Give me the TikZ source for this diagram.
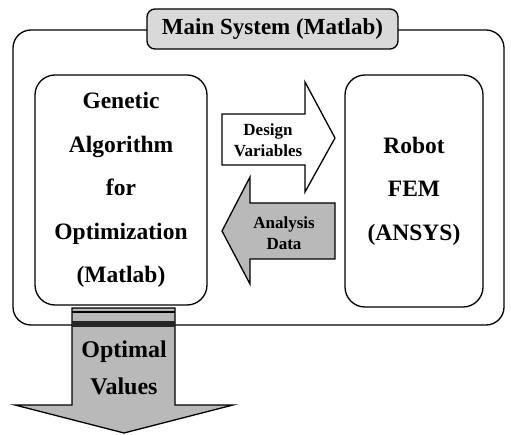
\documentclass[tikz,border=0pt]{standalone}
\usepackage{fontspec}
\setmainfont{Liberation Serif}
\usetikzlibrary{positioning}
\tikzset{every picture/.style={line width=1.3pt}}

\begin{document}
\begin{tikzpicture}[x=1pt,y=-1pt,
    module/.style={draw, rounded corners=20pt, fill=white, align=center,
        font=\bfseries\fontsize{23.5}{43.5}\selectfont},
    flowlabel/.style={align=center, font=\bfseries\fontsize{17}{21.5}\selectfont}]
    \useasboundingbox (0,0) rectangle (511,435);

    % Aussenrahmen des Hauptsystems
    \draw[rounded corners=18pt] (13,30) rectangle (504,325);
    \node[draw, rounded corners=8pt, fill=gray!30, minimum width=251pt, minimum height=40pt,
        font=\bfseries\fontsize{23}{26}\selectfont] (mainsys) at (272.5,29) {Main System (Matlab)};

    % die beiden Module
    \node[module, minimum width=172pt, minimum height=230pt] (ga) at (121,190)
        {Genetic\\Algorithm\\for\\Optimization\\(Matlab)};
    \node[module, minimum width=138pt, minimum height=232pt] (fem) at (414,191)
        {Robot\\FEM\\(ANSYS)};

    % Datenfluss zwischen den Modulen
    \draw[fill=white] (222,114) -- (305,114) -- (305,82) -- (335,138) -- (305,192) -- (305,165) -- (222,165) -- cycle;
    \node[flowlabel] (design) at (268,140) {Design\\Variables};

    \draw[fill=gray!55] (335,203) -- (250,203) -- (250,177) -- (222,231) -- (250,284) -- (250,259) -- (335,259) -- cycle;
    \node[flowlabel] (analysis) at (284,233) {Analysis\\Data};

    % Ergebnis nach unten
    \draw[fill=gray!55] (72,308) -- (175,308) -- (175,405) -- (233,405) -- (124,433) -- (15,405) -- (72,405) -- cycle;
    \fill[black] (72,311) rectangle (175,313);
    \fill[black!85] (72,321) rectangle (175,327);
    \node[font=\bfseries\fontsize{24}{37}\selectfont, align=center] (optimal) at (124,368) {Optimal\\Values};

\end{tikzpicture}
\end{document}
